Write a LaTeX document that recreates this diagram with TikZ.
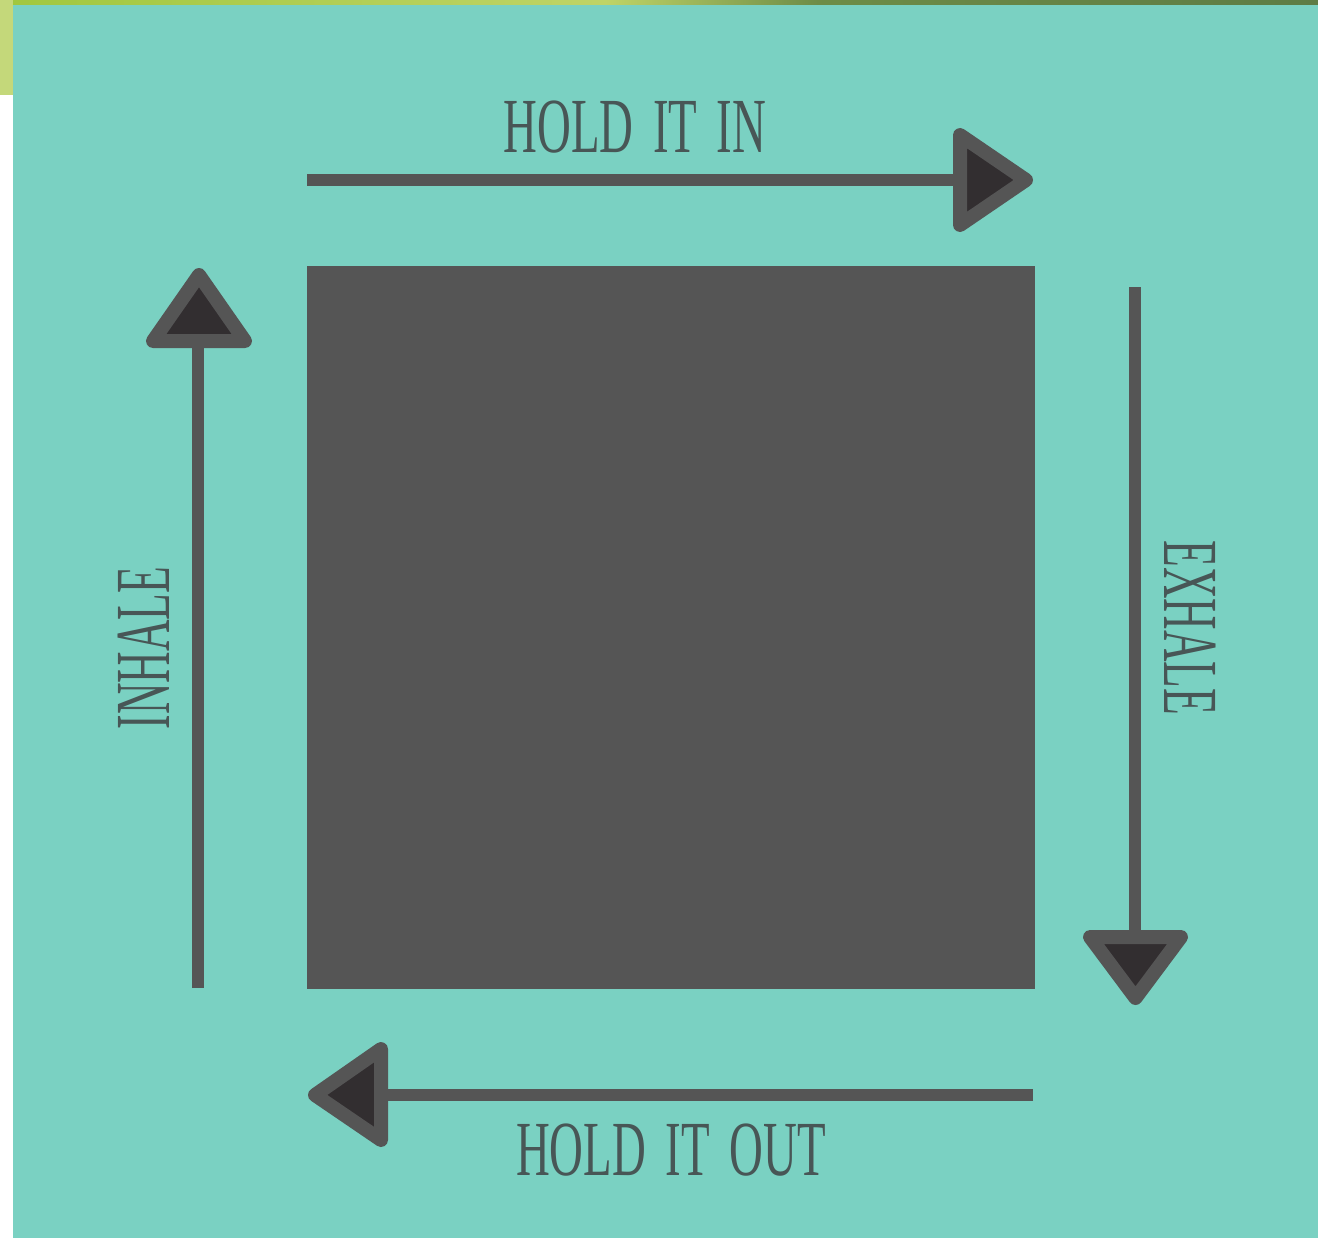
\documentclass[tikz,border=0pt]{standalone}
\usepackage{fontspec}
\setmainfont{Liberation Serif}
\definecolor{teal}{RGB}{122,209,194}
\definecolor{boxgrey}{RGB}{85,85,85}
\definecolor{headin}{RGB}{50,46,48}
\definecolor{txt}{RGB}{72,86,86}
\definecolor{lime}{RGB}{196,216,122}
\pgfdeclarehorizontalshading{topstrip}{100bp}{
  rgb(0bp)=(0.80,0.83,0.56);
  rgb(25bp)=(0.63,0.78,0.24);
  rgb(48bp)=(0.75,0.83,0.40);
  rgb(56bp)=(0.43,0.55,0.28);
  rgb(95bp)=(0.30,0.42,0.26);
  rgb(100bp)=(0.40,0.48,0.36)}
\tikzset{
  shaft/.style={draw=boxgrey, line width=6pt},
  head/.style={draw=boxgrey, fill=headin, line width=7pt, line join=round},
  lbl/.style={text=txt, inner sep=0pt, font=\fontsize{39}{39}\selectfont},
}
\newcommand{\cond}[1]{\scalebox{0.6}[1]{#1}}
\newcommand{\vcond}[1]{\scalebox{0.56}[1]{#1}}
\newcommand{\wsp}{\hspace{0.42em}}
\begin{document}
\begin{tikzpicture}[x=0.5pt,y=-0.5pt]
\useasboundingbox (0,0) rectangle (1318,1238);
\fill[white] (0,0) rectangle (1318,1238);
\shade[shading=topstrip] (0,0) rectangle (1318,6);
\fill[lime] (0,0) rectangle (13,95);
\fill[teal] (13,5) rectangle (1318,1238);
% square
\node[fill=boxgrey, minimum width=364pt, minimum height=361.5pt, inner sep=0pt, anchor=north west] (sq) at (307,266) {};
% coordinates
\coordinate (tA) at (307,180); \coordinate (tB) at (960,180);
\coordinate (rA) at (1135,287); \coordinate (rB) at (1135,935);
\coordinate (bA) at (1033,1095); \coordinate (bB) at (382,1095);
\coordinate (lA) at (198,988); \coordinate (lB) at (198,342);
\draw[shaft] (tA) -- (tB);
\draw[shaft] (rA) -- (rB);
\draw[shaft] (bA) -- (bB);
\draw[shaft] (lA) -- (lB);
% heads
\filldraw[head] (960,135) -- (1026,180) -- (960,225) -- cycle;
\filldraw[head] (1090,937) -- (1181,937) -- (1135.5,998) -- cycle;
\filldraw[head] (381,1049) -- (315,1095) -- (381,1140) -- cycle;
\filldraw[head] (153,341) -- (245,341) -- (199,275) -- cycle;
% labels
\node[lbl] (hin) at (635,127) {\cond{HOLD\wsp IT\wsp IN}};
\node[lbl] (hout) at (671,1150) {\cond{HOLD\wsp IT\wsp OUT}};
\node[lbl, rotate=90] (inh) at (144,648) {\vcond{INHALE}};
\node[lbl, rotate=-90] (exh) at (1190,628) {\vcond{EXHALE}};
\end{tikzpicture}
\end{document}
